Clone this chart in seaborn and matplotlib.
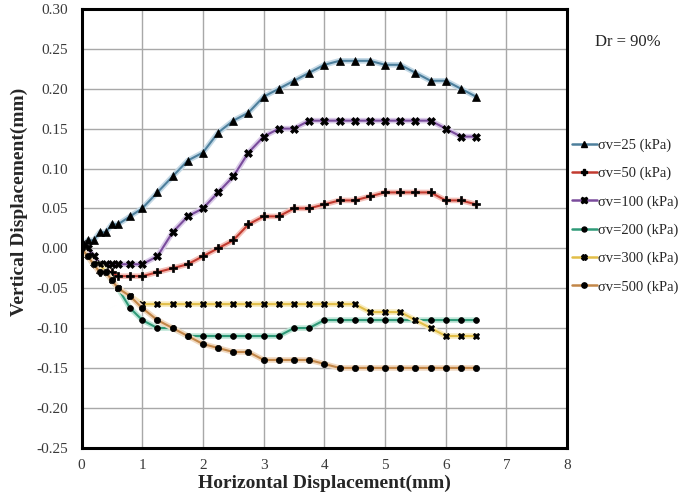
import matplotlib
matplotlib.use("Agg")
import matplotlib.pyplot as plt
import matplotlib.patheffects as pe
from matplotlib.lines import Line2D
import pandas as pd
import seaborn as sns

# Horizontal displacement steps (mm) and vertical displacement (mm) per normal stress
x_25 = [0, 0.05, 0.1, 0.2, 0.3, 0.4, 0.5, 0.6, 0.8, 1.0, 1.25, 1.5, 1.75, 2.0, 2.25, 2.5,
        2.75, 3.0, 3.25, 3.5, 3.75, 4.0, 4.25, 4.5, 4.75, 5.0, 5.25, 5.5, 5.75, 6.0, 6.25, 6.5]
y_25 = [0, 0.005, 0.01, 0.01, 0.02, 0.02, 0.03, 0.03, 0.04, 0.05, 0.07, 0.09, 0.11, 0.12, 0.145, 0.16,
        0.17, 0.19, 0.20, 0.21, 0.22, 0.23, 0.235, 0.235, 0.235, 0.23, 0.23, 0.22, 0.21, 0.21, 0.20, 0.19]

x_50 = [0, 0.1, 0.2, 0.3, 0.4, 0.5, 0.6, 0.8, 1.0, 1.25, 1.5, 1.75, 2.0, 2.25, 2.5, 2.75,
        3.0, 3.25, 3.5, 3.75, 4.0, 4.25, 4.5, 4.75, 5.0, 5.25, 5.5, 5.75, 6.0, 6.25, 6.5]
y_50 = [0, -0.01, -0.02, -0.03, -0.03, -0.03, -0.035, -0.035, -0.035, -0.03, -0.025, -0.02, -0.01, 0.0, 0.01, 0.03,
        0.04, 0.04, 0.05, 0.05, 0.055, 0.06, 0.06, 0.065, 0.07, 0.07, 0.07, 0.07, 0.06, 0.06, 0.055]

x_100 = [0, 0.05, 0.1, 0.2, 0.3, 0.4, 0.5, 0.6, 0.8, 1.0, 1.25, 1.5, 1.75, 2.0, 2.25, 2.5, 2.75,
         3.0, 3.25, 3.5, 3.75, 4.0, 4.25, 4.5, 4.75, 5.0, 5.25, 5.5, 5.75, 6.0, 6.25, 6.5]
y_100 = [0, 0.005, 0.0, -0.01, -0.02, -0.02, -0.02, -0.02, -0.02, -0.02, -0.01, 0.02, 0.04, 0.05, 0.07, 0.09, 0.12,
         0.14, 0.15, 0.15, 0.16, 0.16, 0.16, 0.16, 0.16, 0.16, 0.16, 0.16, 0.16, 0.15, 0.14, 0.14]

x_200 = [0, 0.1, 0.2, 0.3, 0.4, 0.5, 0.6, 0.8, 1.0, 1.25, 1.5, 1.75, 2.0, 2.25, 2.5, 2.75,
         3.0, 3.25, 3.5, 3.75, 4.0, 4.25, 4.5, 4.75, 5.0, 5.25, 5.5, 5.75, 6.0, 6.25, 6.5]
y_200 = [0, -0.01, -0.02, -0.02, -0.03, -0.04, -0.05, -0.075, -0.09, -0.10, -0.10, -0.11, -0.11, -0.11, -0.11, -0.11,
         -0.11, -0.11, -0.10, -0.10, -0.09, -0.09, -0.09, -0.09, -0.09, -0.09, -0.09, -0.09, -0.09, -0.09, -0.09]

x_300 = [0, 0.1, 0.2, 0.3, 0.4, 0.5, 0.6, 0.8, 1.0, 1.25, 1.5, 1.75, 2.0, 2.25, 2.5, 2.75,
         3.0, 3.25, 3.5, 3.75, 4.0, 4.25, 4.5, 4.75, 5.0, 5.25, 5.5, 5.75, 6.0, 6.25, 6.5]
y_300 = [0, -0.01, -0.02, -0.02, -0.03, -0.04, -0.05, -0.06, -0.07, -0.07, -0.07, -0.07, -0.07, -0.07, -0.07, -0.07,
         -0.07, -0.07, -0.07, -0.07, -0.07, -0.07, -0.07, -0.08, -0.08, -0.08, -0.09, -0.10, -0.11, -0.11, -0.11]

x_500 = [0, 0.1, 0.2, 0.3, 0.4, 0.5, 0.6, 0.8, 1.0, 1.25, 1.5, 1.75, 2.0, 2.25, 2.5, 2.75,
         3.0, 3.25, 3.5, 3.75, 4.0, 4.25, 4.5, 4.75, 5.0, 5.25, 5.5, 5.75, 6.0, 6.25, 6.5]
y_500 = [0, -0.01, -0.02, -0.03, -0.03, -0.04, -0.05, -0.06, -0.075, -0.09, -0.10, -0.11, -0.12, -0.125, -0.13, -0.13,
         -0.14, -0.14, -0.14, -0.14, -0.145, -0.15, -0.15, -0.15, -0.15, -0.15, -0.15, -0.15, -0.15, -0.15, -0.15]

labels = ["σv=25 (kPa)", "σv=50 (kPa)", "σv=100 (kPa)",
          "σv=200 (kPa)", "σv=300 (kPa)", "σv=500 (kPa)"]
xs = [x_25, x_50, x_100, x_200, x_300, x_500]
ys = [y_25, y_50, y_100, y_200, y_300, y_500]

x_ticks = [0, 1, 2, 3, 4, 5, 6, 7, 8]
y_ticks = [-0.25, -0.20, -0.15, -0.10, -0.05, 0.00, 0.05, 0.10, 0.15, 0.20, 0.25, 0.30]

line_colors = ["#4d7f9c", "#c23b30", "#7a4c9c", "#2f9a78", "#e2be48", "#c28648"]
glow_colors = ["#c4d9e6", "#f4c0b9", "#dacbe8", "#bfe6d8", "#f8ebbd", "#f1d9c0"]
markers = ["^", "P", "X", "o", "X", "o"]
marker_sizes = [5.5, 5.5, 5.5, 4.2, 4.8, 4.5]

frames = []
for lab, xv, yv in zip(labels, xs, ys):
    frames.append(pd.DataFrame({"x": xv, "y": yv, "series": lab}))
df = pd.concat(frames, ignore_index=True)

sns.set_style("white")
plt.rcParams["font.family"] = ["Liberation Serif", "DejaVu Serif"]

fig = plt.figure(figsize=(6.85, 4.98), dpi=100)
ax = fig.add_axes([0.119, 0.101, 0.709, 0.881])

handles = []
for lab, col, glow, mk, ms in zip(labels, line_colors, glow_colors, markers, marker_sizes):
    sub = df[df["series"] == lab]
    # soft coloured line
    sns.lineplot(data=sub, x="x", y="y", ax=ax, color=col, linewidth=1.5,
                 sort=False, estimator=None, legend=False,
                 path_effects=[pe.Stroke(linewidth=4.0, foreground=glow), pe.Normal()])
    # black point markers on top
    sns.lineplot(data=sub, x="x", y="y", ax=ax, linestyle="", marker=mk,
                 markersize=ms, markerfacecolor="black", markeredgecolor="black",
                 markeredgewidth=0.5, sort=False, estimator=None, legend=False)
    handles.append(Line2D([0], [0], color=col, linewidth=1.8, marker=mk,
                          markersize=ms * 0.85, markerfacecolor="black",
                          markeredgecolor="black", label=lab))

ax.set_xlim(0, 8)
ax.set_ylim(-0.25, 0.30)
ax.set_xticks(x_ticks)
ax.set_yticks(y_ticks)
ax.set_xticklabels([str(t) for t in x_ticks])
ax.set_yticklabels([f"{t:.2f}" for t in y_ticks])
ax.grid(True, color="#a8a8a8", linewidth=1.0)
ax.set_axisbelow(True)
ax.tick_params(axis="both", length=0, labelsize=11, colors="#3a3a3a")
ax.tick_params(axis="y", pad=10)
ax.tick_params(axis="x", pad=8)

for s in ax.spines.values():
    s.set_visible(True)
    s.set_color("black")
    s.set_linewidth(2.2)

ax.set_xlabel("Horizontal Displacement(mm)", fontsize=14, fontweight="bold")
ax.set_ylabel("Vertical Displacement(mm)", fontsize=14, fontweight="bold")
ax.xaxis.set_label_coords(0.5, -0.062)
ax.yaxis.set_label_coords(-0.110, 0.56)

ax.legend(handles=handles, loc="upper left", bbox_to_anchor=(1.01, 0.705), frameon=False,
          fontsize=10.5, handlelength=1.7, handletextpad=0.1,
          labelspacing=1.02, borderaxespad=0, borderpad=0)

fig.text(0.869, 0.915, "Dr = 90%", fontsize=12, ha="left", va="center")

fig.savefig("out.png", dpi=100)
